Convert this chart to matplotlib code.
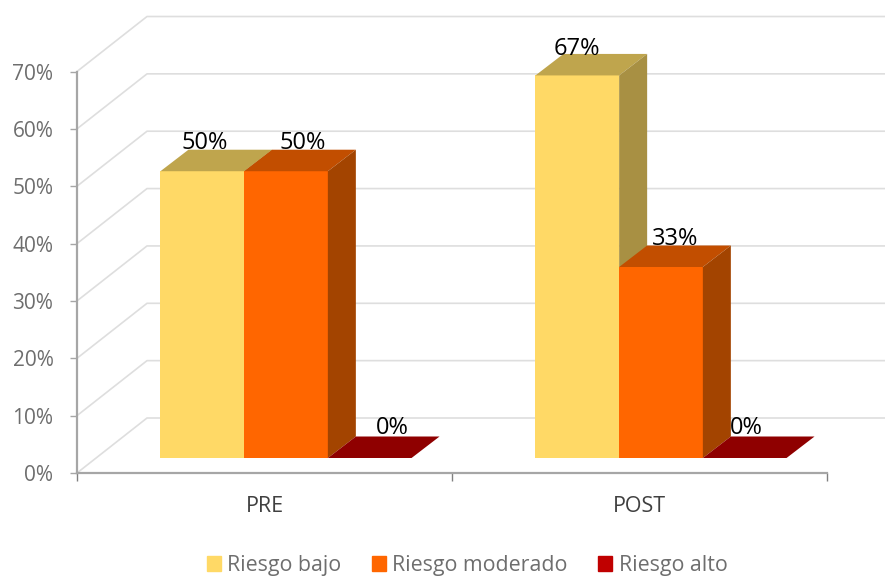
import matplotlib
matplotlib.use('Agg')
import matplotlib.pyplot as plt
from matplotlib.patches import Polygon, Patch

plt.rcParams['font.family'] = ['Open Sans', 'DejaVu Sans']

categories = ['PRE', 'POST']
series_names = ['Riesgo bajo', 'Riesgo moderado', 'Riesgo alto']
riesgo_bajo = [50.0, 66.7]
riesgo_moderado = [50.0, 33.3]
riesgo_alto = [0.0, 0.0]
labels_bajo = ['50%', '67%']
labels_moderado = ['50%', '33%']
labels_alto = ['0%', '0%']
y_ticks = [0, 10, 20, 30, 40, 50, 60, 70]

front_colors = ['#FFD966', '#FF6600', '#8F0000']
top_colors = ['#BFA54D', '#C24E00', '#8F0000']
side_colors = ['#A89043', '#A34400', '#7A0000']
legend_colors = ['#FFD966', '#FF6600', '#C00000']

W, H = 885, 579
# offsets of each label from the top of its bar, in pixels
label_px = {0: [(2, 28), (17, 28)], 1: [(0, 26), (14, 28)]}
zero_px = [(23, 30), (2, 30)]

fig = plt.figure(figsize=(W / 100, H / 100), dpi=100)
ax = fig.add_axes([77 / W, (H - 473) / H, 750 / W, 401.5 / H])
ax.set_xlim(0, 2)
ax.set_ylim(0, 70)

# depth of the fake 3d box, in data units
wall_dx, wall_dy = 70 / 375, 55 / 5.736
bar_dx, bar_dy = 28 / 375, 21.5 / 5.736
floor_x, floor_y = 21.5 / 375, 15 / 5.736
bar_w = 83.7 / 375

for t in y_ticks:
    ax.plot([0, wall_dx, 2 + wall_dx], [t, t + wall_dy, t + wall_dy],
            color='#DEDEDE', lw=1.2, clip_on=False, zorder=1)

all_values = [riesgo_bajo, riesgo_moderado, riesgo_alto]
all_labels = [labels_bajo, labels_moderado, labels_alto]
for c in range(len(categories)):
    for s in range(3):
        v = all_values[s][c]
        x0 = c + 0.5 + floor_x + (s - 1.5) * bar_w
        x1 = x0 + bar_w
        b = floor_y
        ax.bar(x0, v, bar_w, bottom=b, align='edge', color=front_colors[s],
               zorder=3 + c * 3 + s, clip_on=False)
        ax.add_patch(Polygon([(x0, b + v), (x1, b + v), (x1 + bar_dx, b + v + bar_dy),
                              (x0 + bar_dx, b + v + bar_dy)], closed=True,
                             color=top_colors[s], lw=0, clip_on=False,
                             zorder=3 + c * 3 + s))
        ax.add_patch(Polygon([(x1, b), (x1 + bar_dx, b + bar_dy), (x1 + bar_dx, b + v + bar_dy),
                              (x1, b + v)], closed=True,
                             color=side_colors[s], lw=0, clip_on=False,
                             zorder=3 + c * 3 + s))
for c in range(len(categories)):
    for s in range(3):
        v = all_values[s][c]
        x0 = c + 0.5 + floor_x + (s - 1.5) * bar_w
        off = zero_px[c] if s == 2 else label_px[c][s]
        ax.annotate(all_labels[s][c], (x0 + bar_w / 2, floor_y + v),
                    xytext=(off[0] * 0.72, off[1] * 0.72), textcoords='offset points',
                    ha='center', va='center', fontsize=17, color='black',
                    zorder=20, annotation_clip=False)

for side in ['top', 'right']:
    ax.spines[side].set_visible(False)
for side in ['left', 'bottom']:
    ax.spines[side].set_color('#A6A6A6')
    ax.spines[side].set_linewidth(1.6)

ax.set_yticks(y_ticks)
ax.set_yticklabels(['%d%%' % t for t in y_ticks], fontsize=15, color='#6E6E6E')
ax.set_xticks([0, 1, 2])
ax.set_xticklabels([])
ax.tick_params(axis='y', length=5, width=1, color='#A6A6A6', pad=12)
ax.tick_params(axis='x', length=6, width=1, color='#808080')
for c, name in enumerate(categories):
    ax.annotate(name, (c + 0.5, 0), xytext=(0, -34 * 0.72), textcoords='offset points',
                ha='center', va='center', fontsize=15.5, color='#404040',
                annotation_clip=False)

handles = [Patch(color=col, label=n) for col, n in zip(legend_colors, series_names)]
fig.legend(handles=handles, loc='lower center', bbox_to_anchor=(467 / W, -12 / H), ncol=3,
           frameon=False, fontsize=15.4, labelcolor='#6E6E6E', handlelength=0.66,
           handleheight=0.66, handletextpad=0.3, columnspacing=1.42, borderpad=0.2)

fig.savefig('out.png', dpi=100)
plt.close(fig)
